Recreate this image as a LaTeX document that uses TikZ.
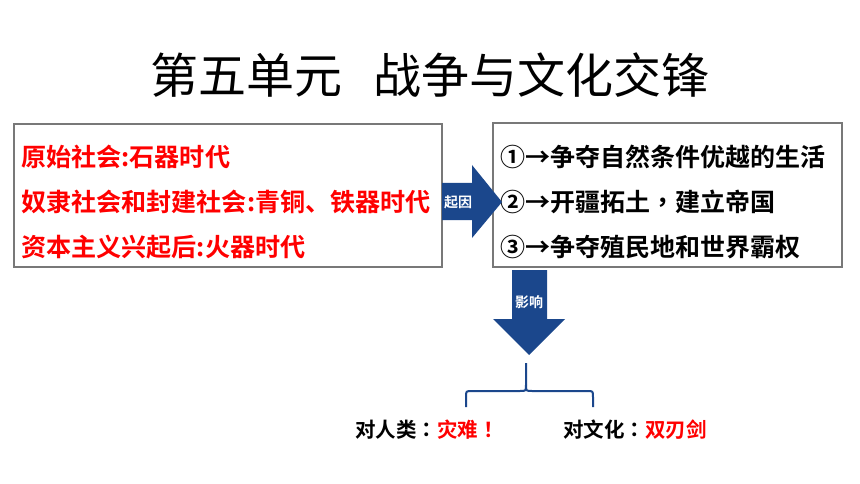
\documentclass[tikz,border=0pt]{standalone}
\usepackage{fontspec}
\setmainfont{Noto Sans CJK SC}
\newfontfamily\cjkb{Noto Sans CJK SC Bold}
\newfontfamily\cjkbtc{Noto Sans CJK TC Bold}
\newfontfamily\cjkr{Noto Sans CJK SC}
\newcommand{\tcp}[1]{{\cjkbtc #1}}
\definecolor{arrowblue}{RGB}{27,71,140}
\definecolor{boxgray}{RGB}{120,120,120}
\definecolor{pptred}{RGB}{255,0,0}
\tikzset{
  framebox/.style={draw=boxgray, line width=1.2pt},
  redline/.style={anchor=west, inner sep=0pt, text=pptred, font=\cjkb\fontsize{25.1}{29}\selectfont},
  blackline/.style={anchor=west, inner sep=0pt, text=black, font=\cjkb\fontsize{25}{30}\selectfont},
  blockarrow/.style={fill=arrowblue, draw=none},
  arrowlabel/.style={inner sep=0pt, text=white, font=\cjkb\fontsize{14}{16}\selectfont},
  bottomtext/.style={anchor=west, inner sep=0pt, font=\cjkb\fontsize{20.5}{24}\selectfont},
  bracestyle/.style={draw=arrowblue, line width=2pt}
}
\begin{document}
\begin{tikzpicture}[x=1pt,y=-1pt]
\useasboundingbox (0,0) rectangle (860,484);
\fill[white] (0,0) rectangle (860,484);
% title
\node[inner sep=0pt, font=\cjkr\fontsize{48}{56}\selectfont] (title) at (430,75) {第五单元\hspace{0.65em}战争与文化交锋};
% left box
\draw[framebox] (14,124) rectangle (442,267);
\node[redline] (l1) at (21,157) {原始社会:石器时代};
\node[redline] (l2) at (21,202) {奴隶社会和封建社会:青铜、铁器时代};
\node[redline] (l3) at (21,247) {资本主义兴起后:火器时代};
% right box
\draw[framebox] (493,123) rectangle (842,267);
\node[blackline] (r1) at (500,157) {①→争夺自然条件优越的生活};
\node[blackline] (r2) at (500,202) {②→开疆拓土\tcp{，}建立帝国};
\node[blackline] (r3) at (500,247) {③→争夺殖民地和世界霸权};
% right arrow
\fill[blockarrow] (442,183) -- (472,183) -- (472,165) -- (502,202) -- (472,238) -- (472,220) -- (442,220) -- cycle;
\node[arrowlabel] (qiyin) at (458,202) {起因};
% down arrow
\fill[blockarrow] (512,270) -- (547,270) -- (547,319) -- (565,319) -- (529,355) -- (493,319) -- (512,319) -- cycle;
\node[arrowlabel] (yingxiang) at (529,302) {影响};
% brace
\draw[bracestyle] (466,407) -- (466,397) .. controls (466,391) .. (472,391) -- (520,391) .. controls (526,391) .. (526,385) -- (526,363);
\draw[bracestyle] (526,385) .. controls (526,391) .. (532,391) -- (587,391) .. controls (593,391) .. (593,397) -- (593,407);
% bottom texts
\node[bottomtext] (human) at (355,430) {对人类\tcp{：}\textcolor{pptred}{灾难\tcp{！}}};
\node[bottomtext] (culture) at (563,430) {对文化\tcp{：}\textcolor{pptred}{双刃剑}};
\end{tikzpicture}
\end{document}
